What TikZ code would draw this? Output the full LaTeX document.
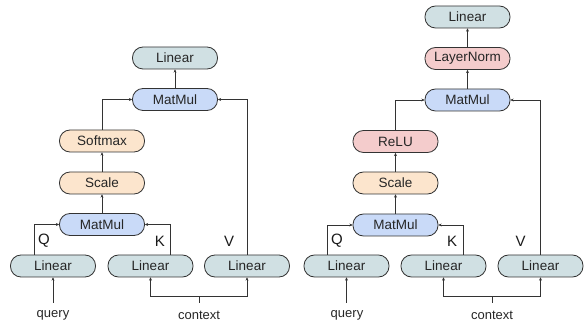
\documentclass[tikz,border=0pt]{standalone}
\usepackage{fontspec}
\setmainfont{Liberation Sans}
\usetikzlibrary{arrows.meta}
\definecolor{cLin}{HTML}{D0E0E3}
\definecolor{cMat}{HTML}{C9DAF8}
\definecolor{cOra}{HTML}{FCE5CD}
\definecolor{cRed}{HTML}{F4CCCC}
\definecolor{cLine}{HTML}{333333}
\begin{document}
\begin{tikzpicture}[x=1pt,y=-1pt,
  blk/.style={draw=cLine,line width=0.8pt,rounded corners=10.5pt,minimum width=85pt,minimum height=22pt,inner sep=0pt,font=\fontsize{13.5}{15}\selectfont,text=black!85},
  lin/.style={blk,fill=cLin},
  mat/.style={blk,fill=cMat},
  ora/.style={blk,fill=cOra},
  red/.style={blk,fill=cRed},
  lbl/.style={font=\fontsize{13}{15}\selectfont,text=black!85,inner sep=0pt},
  qkv/.style={font=\fontsize{15}{17}\selectfont,text=black!90,inner sep=0pt},
  conn/.style={draw=cLine,line width=0.8pt,-{Stealth[length=3.2pt,width=3pt]}},
  plain/.style={draw=cLine,line width=0.8pt}]
\useasboundingbox (0,0) rectangle (584,323);
% ---------- left ----------
\node[lin] (lin1) at (175,58) {Linear};
\node[mat] (mm1) at (175,99.5) {MatMul};
\node[ora] (soft) at (102,141) {Softmax};
\node[ora] (sc1) at (102,183) {Scale};
\node[mat] (mmb1) at (102,224.5) {MatMul};
\node[lin] (lq1) at (53,266) {Linear};
\node[lin] (lk1) at (150.5,266) {Linear};
\node[lin] (lv1) at (247,266) {Linear};
\node[qkv] (q1) at (44,241) {Q};
\node[qkv] (k1) at (160,241) {K};
\node[qkv] (v1) at (229,241) {V};
\node[lbl] (qu1) at (53,315) {query};
\node[lbl] (cx1) at (199,315) {context};
\coordinate (qs1) at (53,303);
\coordinate (cs1) at (199,303);
\coordinate (cj1) at (199,296);
\draw[conn] (mm1.north) -- (lin1.south);
\draw[conn] (mmb1.north) -- (sc1.south);
\draw[conn] (sc1.north) -- (soft.south);
\draw[conn] (soft.north) |- (mm1.west);
\draw[conn] (lv1.north) |- (mm1.east);
\draw[conn] ([xshift=-19pt]lq1.north) |- (mmb1.west);
\draw[conn] ([xshift=19.5pt]lk1.north) |- (mmb1.east);
\draw[conn] (qs1) -- (lq1.south);
\draw[plain] (cs1) -- (cj1);
\draw[conn] (cj1) -| (lk1.south);
\draw[conn] (cj1) -| (lv1.south);
% ---------- right ----------
\node[lin] (lin2) at (467.5,17) {Linear};
\node[red] (ln2) at (467.5,58.5) {LayerNorm};
\node[mat] (mm2) at (467.5,100) {MatMul};
\node[red] (relu) at (395.5,141.5) {ReLU};
\node[ora] (sc2) at (395.5,183) {Scale};
\node[mat] (mmb2) at (395.5,225) {MatMul};
\node[lin] (lq2) at (346.5,266) {Linear};
\node[lin] (lk2) at (443.5,266) {Linear};
\node[lin] (lv2) at (540.5,266) {Linear};
\node[qkv] (q2) at (337,241) {Q};
\node[qkv] (k2) at (452,241) {K};
\node[qkv] (v2) at (520.5,241) {V};
\node[lbl] (qu2) at (347,315) {query};
\node[lbl] (cx2) at (492,315) {context};
\coordinate (qs2) at (346.5,303);
\coordinate (cs2) at (492,303);
\coordinate (cj2) at (492,296);
\draw[conn] (mm2.north) -- (ln2.south);
\draw[conn] (ln2.north) -- (lin2.south);
\draw[conn] (mmb2.north) -- (sc2.south);
\draw[conn] (sc2.north) -- (relu.south);
\draw[conn] (relu.north) |- (mm2.west);
\draw[conn] (lv2.north) |- (mm2.east);
\draw[conn] ([xshift=-19.5pt]lq2.north) |- (mmb2.west);
\draw[conn] ([xshift=19.5pt]lk2.north) |- (mmb2.east);
\draw[conn] (qs2) -- (lq2.south);
\draw[plain] (cs2) -- (cj2);
\draw[conn] (cj2) -| (lk2.south);
\draw[conn] (cj2) -| (lv2.south);
\end{tikzpicture}
\end{document}
